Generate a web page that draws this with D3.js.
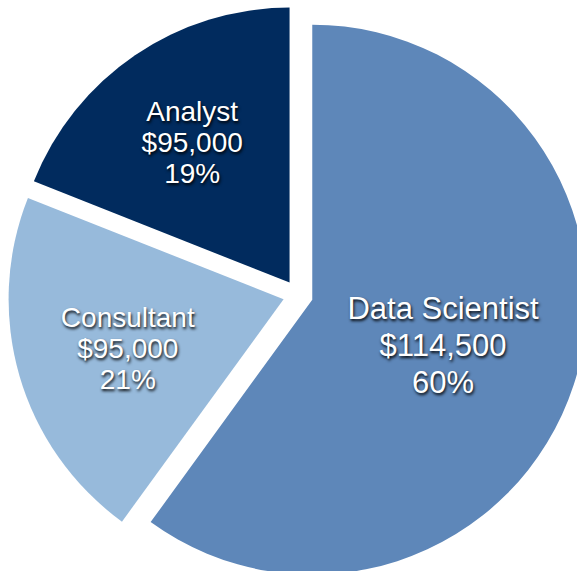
<!DOCTYPE html>
<meta charset="utf-8">
<style>
body { margin: 0; background: #fff; }
.label { fill: #fff; font-family: "Liberation Sans", Arial, sans-serif; text-anchor: middle;
         text-shadow: 1px 2px 3px rgba(0,0,0,0.95); }
</style>
<body>
<script src="https://cdn.jsdelivr.net/npm/d3@7"></script>
<script>
// data
var roles    = ["Data Scientist", "Consultant", "Analyst"];
var salaries = ["$114,500", "$95,000", "$95,000"];
var shares   = [60, 21, 19];
var colors   = ["#5e87b9", "#97badb", "#012b5e"];

// label placement (fraction of radius) and sizes per slice
var labelPos  = [0.5, 0.59, 0.63];
var fontSize  = [31, 28, 28];
var lineH     = [37, 31, 31];

var width = 577, height = 571,
    cx = 298, cy = 295,
    radius = 275, explode = 15;

var svg = d3.select("body").append("svg")
    .attr("width", width)
    .attr("height", height)
  .append("g")
    .attr("transform", "translate(" + cx + "," + cy + ")");

var pie = d3.pie().sort(null).value(function(d) { return d; });
var arcs = pie(shares);

var arc = d3.arc().innerRadius(0).outerRadius(radius);

// point along a slice's mid angle
function offset(d, k) {
  var a = (d.startAngle + d.endAngle) / 2;
  return [Math.sin(a) * k, -Math.cos(a) * k];
}

var slice = svg.selectAll(".slice")
    .data(arcs)
  .enter().append("g")
    .attr("class", "slice")
    .attr("transform", function(d) {
      var o = offset(d, explode);
      return "translate(" + o[0] + "," + o[1] + ")";
    });

slice.append("path")
    .attr("d", arc)
    .attr("fill", function(d, i) { return colors[i]; });

slice.each(function(d, i) {
  var p = offset(d, radius * labelPos[i]);
  var t = d3.select(this).append("text")
      .attr("class", "label")
      .style("font-size", fontSize[i] + "px")
      .attr("transform", "translate(" + p[0] + "," + (p[1] + 3) + ")");
  var lines = [roles[i], salaries[i], shares[i] + "%"];
  lines.forEach(function(s, j) {
    t.append("tspan")
      .attr("x", 0)
      .attr("y", (j - 1) * lineH[i] + fontSize[i] * 0.36)
      .text(s);
  });
});
</script>
</body>
